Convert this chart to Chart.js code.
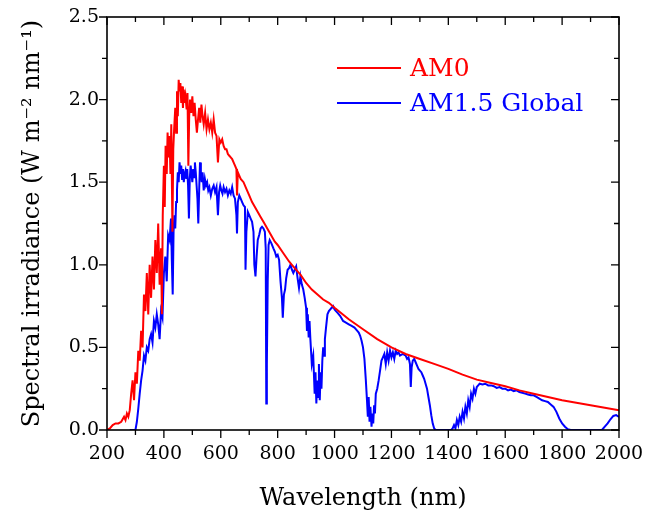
<!DOCTYPE html>
<html>
<head>
<meta charset="utf-8">
<script src="https://cdn.jsdelivr.net/npm/chart.js@4.4.0/dist/chart.umd.min.js"></script>
<style>
  html, body { margin: 0; padding: 0; background: #fff; }
  canvas { display: block; }
</style>
</head>
<body>
<canvas id="spectrumChart" width="646" height="515"></canvas>
<script>
// spectral irradiance (wavelength in nm, W m-2 nm-1)
const wlAM0 = [
  200, 210, 220, 230, 240, 250, 260, 265, 270, 275,
  280, 285, 290, 295, 300, 305, 310, 315, 320, 325,
  330, 335, 340, 345, 350, 355, 360, 365, 370, 375,
  380, 385, 390, 393, 396, 400, 403, 406, 410, 413,
  416, 420, 423, 426, 430, 433, 436, 440, 443, 446,
  449, 452, 455, 458, 461, 464, 467, 470, 473, 476,
  480, 483, 486, 489, 492, 496, 500, 504, 508, 512,
  516, 520, 524, 528, 532, 536, 540, 545, 550, 555,
  560, 565, 570, 575, 580, 585, 590, 595, 600, 605,
  610, 615, 620, 625, 630, 635, 640, 645, 650, 655,
  657, 660, 665, 670, 680, 690, 700, 710, 720, 730,
  740, 750, 760, 770, 780, 790, 800, 820, 840, 850,
  860, 870, 880, 900, 920, 940, 960, 980, 1000, 1050,
  1100, 1150, 1200, 1250, 1300, 1350, 1400, 1450, 1500, 1550,
  1600, 1650, 1700, 1750, 1800, 1850, 1900, 1950, 2000
];
const am0 = [
  0.00, 0.01, 0.03, 0.04, 0.04, 0.05, 0.08, 0.06, 0.10, 0.08,
  0.12, 0.22, 0.30, 0.18, 0.35, 0.28, 0.48, 0.42, 0.60, 0.50,
  0.82, 0.72, 0.95, 0.70, 1.00, 0.80, 1.05, 0.85, 1.15, 0.95,
  1.25, 0.88, 1.10, 0.70, 1.30, 1.60, 1.35, 1.72, 1.55, 1.80,
  1.65, 1.78, 1.55, 1.85, 1.20, 1.70, 1.82, 1.95, 1.80, 2.05,
  1.90, 2.12, 2.05, 2.10, 1.98, 2.08, 1.95, 2.06, 1.98, 2.02,
  1.94, 2.04, 1.60, 1.90, 2.00, 1.92, 2.02, 1.90, 1.98, 1.88,
  1.80, 1.88, 1.95, 1.86, 1.97, 1.90, 1.85, 1.92, 1.82, 1.88,
  1.82, 1.86, 1.80, 1.88, 1.80, 1.78, 1.62, 1.76, 1.74, 1.76,
  1.72, 1.70, 1.70, 1.67, 1.66, 1.65, 1.64, 1.62, 1.60, 1.58,
  1.42, 1.56, 1.54, 1.52, 1.50, 1.46, 1.42, 1.38, 1.35, 1.32,
  1.29, 1.26, 1.23, 1.20, 1.17, 1.14, 1.12, 1.07, 1.02, 1.00,
  0.98, 0.96, 0.94, 0.89, 0.85, 0.82, 0.79, 0.77, 0.74, 0.67,
  0.61, 0.55, 0.50, 0.46, 0.43, 0.40, 0.37, 0.335, 0.305, 0.285,
  0.265, 0.24, 0.22, 0.20, 0.18, 0.165, 0.15, 0.135, 0.12
];

const wlAM15 = [
  280, 295, 300, 305, 310, 315, 320, 325, 330, 335,
  340, 345, 350, 355, 360, 365, 370, 375, 380, 385,
  390, 395, 400, 405, 410, 415, 420, 425, 428, 431,
  434, 437, 440, 443, 446, 449, 452, 455, 458, 461,
  464, 467, 470, 473, 476, 479, 482, 485, 488, 491,
  494, 497, 500, 503, 506, 509, 512, 515, 518, 521,
  524, 527, 530, 533, 536, 540, 544, 548, 552, 556,
  560, 565, 570, 575, 580, 585, 590, 594, 598, 602,
  606, 610, 615, 620, 625, 630, 635, 640, 645, 650,
  655, 657, 660, 665, 670, 675, 680, 685, 687, 690,
  695, 700, 705, 710, 715, 718, 722, 726, 730, 735,
  740, 745, 750, 755, 758, 760, 762, 765, 768, 772,
  778, 785, 790, 795, 800, 805, 810, 815, 818, 822,
  826, 830, 835, 840, 845, 850, 855, 860, 865, 870,
  875, 880, 885, 890, 895, 900, 903, 906, 909, 912,
  915, 920, 925, 930, 933, 936, 939, 942, 945, 948,
  951, 954, 957, 960, 963, 966, 970, 975, 980, 985,
  990, 995, 1000, 1005, 1010, 1020, 1030, 1040, 1050, 1060,
  1070, 1080, 1085, 1090, 1095, 1100, 1105, 1110, 1114, 1117,
  1120, 1123, 1126, 1130, 1133, 1136, 1139, 1142, 1145, 1150,
  1155, 1160, 1165, 1170, 1175, 1180, 1185, 1190, 1195, 1200,
  1205, 1210, 1215, 1220, 1225, 1230, 1240, 1250, 1255, 1260,
  1265, 1268, 1271, 1275, 1280, 1285, 1290, 1295, 1300, 1305,
  1310, 1315, 1320, 1325, 1330, 1335, 1340, 1345, 1350, 1355,
  1410, 1415, 1420, 1425, 1430, 1435, 1440, 1445, 1450, 1455,
  1460, 1465, 1470, 1475, 1480, 1485, 1490, 1495, 1500, 1505,
  1510, 1520, 1530, 1540, 1550, 1560, 1570, 1580, 1590, 1600,
  1610, 1620, 1630, 1640, 1650, 1660, 1670, 1680, 1690, 1700,
  1710, 1720, 1730, 1740, 1750, 1760, 1770, 1780, 1790, 1800,
  1810, 1820, 1830, 1940, 1950, 1960, 1970, 1980, 1990, 2000
];
const am15 = [
  0, 0, 0.00, 0.05, 0.13, 0.22, 0.30, 0.36, 0.45, 0.42,
  0.50, 0.48, 0.55, 0.58, 0.53, 0.66, 0.62, 0.70, 0.64, 0.55,
  0.72, 0.68, 0.95, 1.05, 0.90, 1.18, 1.15, 1.28, 1.02, 0.82,
  1.20, 1.30, 1.22, 1.38, 1.45, 1.56, 1.50, 1.62, 1.55, 1.60,
  1.52, 1.58, 1.50, 1.55, 1.57, 1.52, 1.58, 1.48, 1.28, 1.52,
  1.60, 1.55, 1.50, 1.58, 1.53, 1.62, 1.56, 1.48, 1.40, 1.25,
  1.45, 1.62, 1.55, 1.50, 1.56, 1.45, 1.52, 1.48, 1.50, 1.45,
  1.47, 1.42, 1.46, 1.48, 1.44, 1.47, 1.30, 1.44, 1.48, 1.45,
  1.43, 1.47, 1.44, 1.46, 1.42, 1.45, 1.43, 1.47, 1.42, 1.40,
  1.30, 1.19, 1.38, 1.42, 1.40, 1.38, 1.36, 1.35, 0.97, 1.20,
  1.32, 1.30, 1.28, 1.26, 1.20, 1.00, 0.93, 1.05, 1.15, 1.18,
  1.22, 1.23, 1.22, 1.20, 1.10, 0.16, 0.40, 0.90, 1.12, 1.15,
  1.13, 1.10, 1.08, 1.05, 1.06, 1.03, 0.90, 0.80, 0.68, 0.82,
  0.85, 0.92, 0.97, 0.98, 1.00, 0.97, 0.95, 0.97, 0.99, 0.92,
  0.86, 0.93, 0.88, 0.85, 0.80, 0.74, 0.60, 0.70, 0.56, 0.66,
  0.55, 0.40, 0.45, 0.22, 0.35, 0.16, 0.30, 0.20, 0.40, 0.18,
  0.35, 0.25, 0.42, 0.50, 0.45, 0.55, 0.62, 0.70, 0.72, 0.73,
  0.74, 0.75, 0.73, 0.72, 0.71, 0.69, 0.66, 0.65, 0.64, 0.63,
  0.62, 0.60, 0.59, 0.57, 0.54, 0.50, 0.43, 0.30, 0.18, 0.08,
  0.20, 0.05, 0.14, 0.02, 0.10, 0.04, 0.15, 0.10, 0.22, 0.25,
  0.30, 0.36, 0.42, 0.44, 0.46, 0.40, 0.47, 0.42, 0.48, 0.44,
  0.47, 0.43, 0.48, 0.46, 0.47, 0.45, 0.46, 0.45, 0.43, 0.44,
  0.40, 0.26, 0.38, 0.42, 0.43, 0.41, 0.39, 0.37, 0.36, 0.35,
  0.33, 0.31, 0.28, 0.25, 0.20, 0.15, 0.09, 0.04, 0.01, 0,
  0, 0.01, 0.03, 0.01, 0.06, 0.03, 0.08, 0.05, 0.11, 0.07,
  0.14, 0.10, 0.18, 0.14, 0.22, 0.19, 0.25, 0.22, 0.26, 0.27,
  0.28, 0.275, 0.28, 0.27, 0.27, 0.265, 0.255, 0.26, 0.25, 0.25,
  0.24, 0.245, 0.235, 0.24, 0.23, 0.225, 0.22, 0.215, 0.21, 0.21,
  0.20, 0.19, 0.18, 0.175, 0.17, 0.155, 0.14, 0.11, 0.07, 0.04,
  0.02, 0.005, 0, 0, 0.02, 0.04, 0.065, 0.085, 0.09, 0.08
];

const seriesNames = ['AM0', 'AM1.5 Global'];
const seriesColors = ['#ff0000', '#0000ff'];
const xTicks = [200, 400, 600, 800, 1000, 1200, 1400, 1600, 1800, 2000];
const yTicks = [0, 0.5, 1.0, 1.5, 2.0, 2.5];

const serif = "'DejaVu Serif', 'Liberation Serif', serif";

function toPoints(xs, ys) {
  return xs.map((x, i) => ({ x: x, y: ys[i] }));
}

// box frame with ticks: outward on bottom/left, inward on top/right
const framePlugin = {
  id: 'frame',
  afterDatasetsDraw(chart) {
    const { ctx, chartArea: a, scales } = chart;
    const xs = scales.x, ys = scales.y;
    const major = 8, minor = 5;
    ctx.save();
    ctx.strokeStyle = '#000';
    ctx.lineWidth = 1.6;
    ctx.strokeRect(a.left, a.top, a.right - a.left, a.bottom - a.top);
    ctx.lineWidth = 1.3;
    ctx.beginPath();
    xTicks.forEach((v, i) => {
      const p = xs.getPixelForValue(v);
      ctx.moveTo(p, a.bottom); ctx.lineTo(p, a.bottom + major);
      ctx.moveTo(p, a.top); ctx.lineTo(p, a.top + major);
      if (i < xTicks.length - 1) {
        const m = xs.getPixelForValue((v + xTicks[i + 1]) / 2);
        ctx.moveTo(m, a.bottom); ctx.lineTo(m, a.bottom + minor);
        ctx.moveTo(m, a.top); ctx.lineTo(m, a.top + minor);
      }
    });
    yTicks.forEach((v, i) => {
      const p = ys.getPixelForValue(v);
      ctx.moveTo(a.left, p); ctx.lineTo(a.left - major, p);
      ctx.moveTo(a.right, p); ctx.lineTo(a.right - major, p);
      if (i < yTicks.length - 1) {
        const m = ys.getPixelForValue((v + yTicks[i + 1]) / 2);
        ctx.moveTo(a.left, m); ctx.lineTo(a.left - minor, m);
        ctx.moveTo(a.right, m); ctx.lineTo(a.right - minor, m);
      }
    });
    ctx.stroke();
    ctx.restore();
  }
};

// legend inside the plot, upper right
const legendPlugin = {
  id: 'innerLegend',
  afterDraw(chart) {
    const { ctx, chartArea: a } = chart;
    const x0 = a.left + 230, y0 = a.top + 51, row = 35;
    ctx.save();
    ctx.font = "25px " + serif;
    ctx.textBaseline = 'middle';
    chart.data.datasets.forEach((ds, i) => {
      const y = y0 + i * row;
      ctx.strokeStyle = ds.borderColor;
      ctx.lineWidth = 2;
      ctx.beginPath();
      ctx.moveTo(x0, y);
      ctx.lineTo(x0 + 64, y);
      ctx.stroke();
      ctx.fillStyle = ds.borderColor;
      ctx.fillText(ds.label, x0 + 73, y + 1);
    });
    ctx.restore();
  }
};

const ctx = document.getElementById('spectrumChart').getContext('2d');

const spectrumChart = new Chart(ctx, {
  type: 'line',
  data: {
    datasets: [{
      label: seriesNames[0],
      data: toPoints(wlAM0, am0),
      borderColor: seriesColors[0],
      borderWidth: 2,
      pointRadius: 0,
      fill: false,
      tension: 0
    }, {
      label: seriesNames[1],
      data: toPoints(wlAM15, am15),
      borderColor: seriesColors[1],
      borderWidth: 2,
      pointRadius: 0,
      fill: false,
      tension: 0
    }]
  },
  options: {
    responsive: false,
    animation: false,
    devicePixelRatio: 1,
    layout: { padding: { top: 17, right: 27, left: 0, bottom: 0 } },
    scales: {
      x: {
        type: 'linear',
        min: 200,
        max: 2000,
        afterBuildTicks: (s) => { s.ticks = xTicks.map(v => ({ value: v })); },
        afterFit: (s) => { s.height = 85; s.paddingLeft = 0; s.paddingRight = 0; },
        grid: { display: false, drawTicks: false },
        border: { display: false },
        ticks: {
          padding: 13,
          color: '#000',
          font: { family: serif, size: 19 },
          maxRotation: 0,
          callback: (v) => String(v)
        },
        title: {
          display: true,
          text: 'Wavelength (nm)',
          color: '#000',
          font: { family: serif, size: 24 },
          padding: { top: 0, bottom: 2 }
        }
      },
      y: {
        min: 0,
        max: 2.5,
        afterBuildTicks: (s) => { s.ticks = yTicks.map(v => ({ value: v })); },
        afterFit: (s) => { s.width = 107; s.paddingTop = 0; s.paddingBottom = 0; },
        grid: { display: false, drawTicks: false },
        border: { display: false },
        ticks: {
          padding: 8,
          color: '#000',
          font: { family: serif, size: 19 },
          callback: (v) => v.toFixed(1)
        },
        title: {
          display: true,
          text: 'Spectral irradiance (W m\u207B\u00B2 nm\u207B\u00B9)',
          color: '#000',
          font: { family: serif, size: 24 },
          padding: { top: 18, bottom: 0 }
        }
      }
    },
    plugins: {
      legend: { display: false },
      tooltip: { enabled: false }
    }
  },
  plugins: [framePlugin, legendPlugin]
});
</script>
</body>
</html>
